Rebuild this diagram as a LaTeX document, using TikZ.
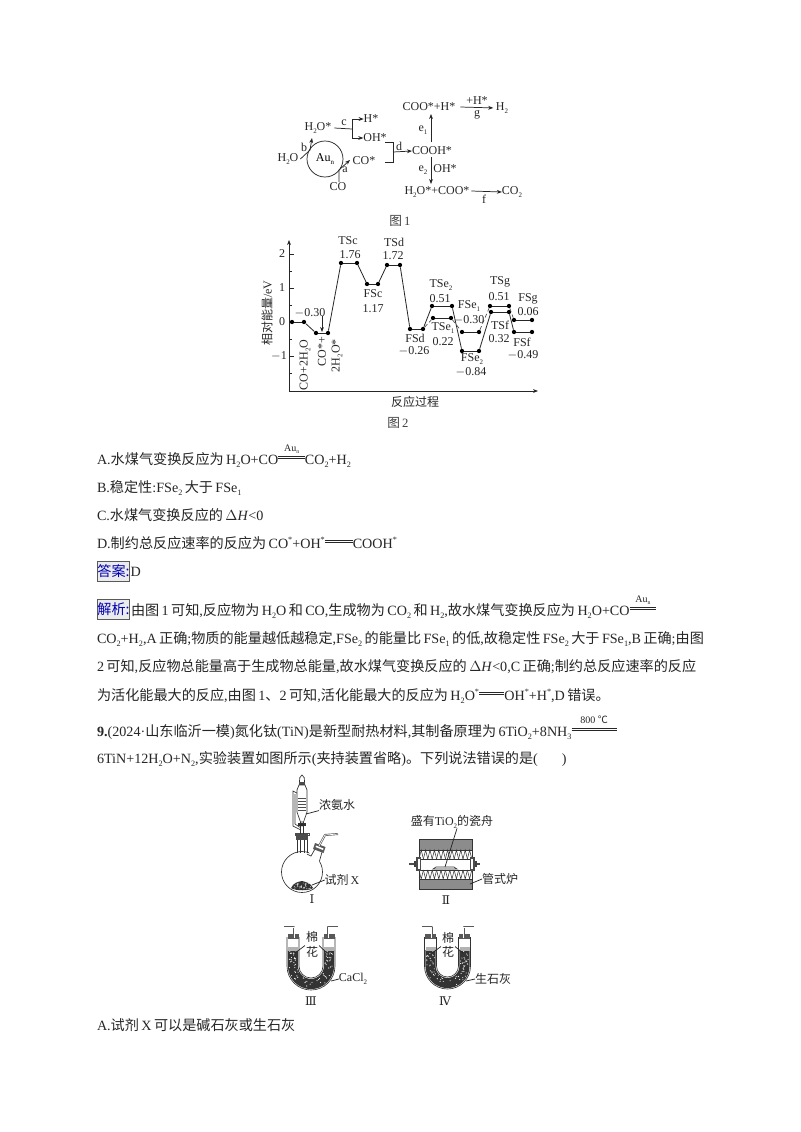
\documentclass[tikz,border=0pt]{standalone}
\usepackage{fontspec}
\usetikzlibrary{arrows.meta,calc}
\setmainfont{Liberation Serif}
\newfontfamily\cjk{Noto Sans CJK SC}
\newfontfamily\dvs{DejaVu Serif}
\newcommand\zh[1]{{\cjk #1}}
\newcommand\bodyfont{\fontsize{10.6}{12}\selectfont\spaceskip=1.8pt\relax}
\newcommand\sbs[1]{\raisebox{-0.22em}{\scalebox{0.58}{#1}}}
\newcommand\sps[1]{\raisebox{0.42em}{\scalebox{0.58}{#1}}}
\newcommand\eqsign[2]{\leavevmode\rlap{\raisebox{9.6pt}{\makebox[#1]{\fontsize{7.5}{8}\selectfont #2}}}\rlap{\raisebox{4.4pt}{\rule{#1}{0.4pt}}}\raisebox{5.8pt}{\rule{#1}{0.4pt}}}
\tikzset{
  x=0.75pt,y=-0.75pt,
  body/.style={anchor=base west,inner sep=0pt,outer sep=0pt,font=\bodyfont,text=black!85},
  small/.style={inner sep=0pt,outer sep=0pt,font=\fontsize{9}{10}\selectfont,text=black!85},
  figcap/.style={inner sep=0pt,outer sep=0pt,font=\fontsize{9.5}{10}\selectfont,text=black!75},
  ln/.style={draw=black!85,line width=0.55pt},
  arr/.style={ln,-{Stealth[length=3.8pt,width=2.9pt]}},
  lvl/.style={draw=black!85,line width=0.6pt},
  dash2/.style={draw=black!70,line width=0.5pt,densely dashed},
  pt/.style={circle,fill=black,inner sep=0pt,minimum size=3.2pt},
  tag/.style={draw=black!65,line width=0.6pt,fill=blue!10!black!8,inner sep=0pt,outer sep=0pt,text=blue!70!black,font=\fontsize{10.6}{12}\selectfont\cjk,minimum height=15pt,minimum width=24.5pt},
  glass/.style={draw=black!80,line width=0.5pt},
}
\newcommand\level[4]{% name, x1, x2, y
  \node[pt] (#1a) at (#2,#4) {};
  \node[pt] (#1b) at (#3,#4) {};
  \draw[lvl] (#1a) -- (#1b);
}
\newcommand\utube[3]{% center x, mid radius, seed
  \pgfmathsetseed{#3}
  \begin{scope}[shift={(#1,966)}]
    \fill[white] (-#2-6,-29) rectangle (#2+6,0);
    \path[draw=black!80,line width=7.6pt] (-#2,-16) -- (-#2,0)
      .. controls (-#2,0.5523*#2) and (-0.5523*#2,#2) .. (0,#2)
      .. controls (0.5523*#2,#2) and (#2,0.5523*#2) .. (#2,0) -- (#2,-16);
    \foreach \i in {1,...,22}{
      \pgfmathsetmacro\dx{rnd*8-4}\pgfmathsetmacro\yy{-16+rnd*16}
      \fill[white] (-#2+\dx,\yy) circle (0.55);
      \pgfmathsetmacro\dx{rnd*8-4}\pgfmathsetmacro\yy{-16+rnd*16}
      \fill[white] (#2+\dx,\yy) circle (0.55);
    }
    \foreach \i in {1,...,34}{
      \pgfmathsetmacro\aa{rnd*180}\pgfmathsetmacro\rr{#2+rnd*8-4}
      \fill[white] ({\rr*cos(\aa)},{\rr*sin(\aa)}) circle (0.55);
    }
    \fill[black!30] (-#2-5,-19) rectangle (-#2+5,-15);
    \fill[black!30] (#2-5,-19) rectangle (#2+5,-15);
    % glass walls
    \draw[glass] (-#2-6,-29) -- (-#2-6,0) .. controls (-#2-6,{0.5523*(#2+6)}) and ({-0.5523*(#2+6)},#2+6) .. (0,#2+6)
      .. controls ({0.5523*(#2+6)},#2+6) and (#2+6,{0.5523*(#2+6)}) .. (#2+6,0) -- (#2+6,-29);
    \draw[glass] (-#2+6,-29) -- (-#2+6,0) .. controls (-#2+6,{0.5523*(#2-6)}) and ({-0.5523*(#2-6)},#2-6) .. (0,#2-6)
      .. controls ({0.5523*(#2-6)},#2-6) and (#2-6,{0.5523*(#2-6)}) .. (#2-6,0) -- (#2-6,-29);
    % stoppers
    \fill[black!65] (-#2-5.5,-32) rectangle (-#2+5.5,-27);
    \fill[black!65] (#2-5.5,-32) rectangle (#2+5.5,-27);
    % delivery tubes
    \draw[black!65,line width=1.5pt,line join=round] (-#2+1,-28) -- (-#2+1,-39) -- (-#2-9,-39);
    \draw[black!65,line width=1.5pt,line join=round] (#2-1,-28) -- (#2-1,-39) -- (#2+9,-39);
    \draw[white,line width=0.5pt,line join=round] (-#2+1,-28) -- (-#2+1,-39) -- (-#2-9,-39);
    \draw[white,line width=0.5pt,line join=round] (#2-1,-28) -- (#2-1,-39) -- (#2+9,-39);
  \end{scope}
}
\begin{document}
\begin{tikzpicture}
\useasboundingbox (0,0) rectangle (800,1132);
\fill[white] (0,0) rectangle (800,1132);

%%%%% Figure 1
\node[small] (cooh1) at (429,107) {COO*+H*};
\node[small] (h2) at (502,108) {H\sbs{2}};
\node[small] (plush) at (477,101) {+H*};
\node[small] (g) at (477,115) {g};
\node[small] (cooh) at (432,151) {COOH*};
\node[small] (e1) at (423,130) {e\sbs{1}};
\node[small] (e2) at (423,170) {e\sbs{2}};
\node[small] (ohb) at (445,169) {OH*};
\node[small] (h2ocoo) at (437,192) {H\sbs{2}O*+COO*};
\node[small] (co2) at (512,192) {CO\sbs{2}};
\node[small] (f) at (484,199) {f};
\node[small] (h2os) at (318,128) {H\sbs{2}O*};
\node[small] (hs) at (371,119) {H*};
\node[small] (ohs) at (375,138) {OH*};
\node[small] (c) at (344,123) {c};
\node[small] (d) at (399,146) {d};
\node[small] (h2o) at (288,159) {H\sbs{2}O};
\node[small] (cos) at (364,161) {CO*};
\node[small] (co) at (338,187) {CO};
\node[small] (a) at (345,170) {a};
\node[small] (b) at (304,147) {b};
\node[draw=black!85,line width=0.55pt,circle,minimum size=27pt,inner sep=0pt,font=\fontsize{9}{10}\selectfont] (au) at (325,159) {Au\sbs{n}};
\node[figcap] (fig1) at (400,221) {\zh{图}\,1};
\draw[arr,shorten >=2pt] (cooh1.east)++(5,0) -- (h2.west) ;
\coordinate (e1t) at (431,114);
\coordinate (e1b) at (431,142);
\coordinate (e2t) at (431,157);
\coordinate (e2b) at (431,184);
\draw[arr] (e1b) -- (e1t);
\draw[arr] (e2t) -- (e2b);
\draw[arr] (h2ocoo.east)++(2,-1) -- (co2.west);
\coordinate (cj) at (352,129);
\draw[ln] (h2os.east)++(3,0) -- (cj);
\draw[arr] (352,119) -- (hs.west);
\draw[arr] (352,138) -- (ohs.west);
\draw[ln] (352,119) -- (352,138);
\coordinate (dj) at (393,152);
\draw[ln] (385,142) -- (393,142) -- (393,162) -- (385,162);
\draw[arr] (dj) -- (cooh.west);
\draw[arr] (co.north)++(1,-1) -- (339,170) -- (350,160);
\draw[arr] (h2o.east)++(2,0) -- (310,150) -- (312,138);

%%%%% Figure 2
\coordinate (origin) at (289,391);
\coordinate (ytop) at (289,240);
\coordinate (xend) at (538,391);
\draw[arr] (origin) -- (ytop);
\draw[arr] (origin) -- (xend);
\foreach \yy in {254,288,322,356}{\draw[ln] (289,\yy) -- (294,\yy);}
\foreach \yy in {271,305,339,373}{\draw[ln] (289,\yy) -- (292,\yy);}
\node[small] (t2) at (282,254) {2};
\node[small] (t1) at (282,288) {1};
\node[small] (t0) at (282,322) {0};
\node[small] (tm) at (279,356) {$-$1};
\node[small,rotate=90] (ylab) at (267,313) {\zh{相对能量}/eV};
\node[small] (xlab) at (415,402) {\zh{反应过程}};
\node[figcap] (fig2) at (398,423) {\zh{图}\,2};
\level{p0}{292}{304}{322}
\level{p1}{316}{328}{333}
\level{p2}{341}{357}{263}
\level{p3}{367}{378}{284}
\level{p4}{387}{400}{265}
\level{p5}{410}{423}{329}
\level{p6}{432}{452}{306}
\level{p7}{433}{451}{318}
\level{p8}{462}{479}{332}
\level{p9}{462}{479}{351}
\level{p10}{490}{509}{306}
\level{p11}{491}{509}{312}
\level{p12}{514}{532}{320}
\level{p13}{514}{532}{332}
\draw[lvl] (p0b) -- (p1a);
\draw[lvl] (p1b) -- (p2a);
\draw[lvl] (p2b) -- (p3a);
\draw[lvl] (p3b) -- (p4a);
\draw[lvl] (p4b) -- (p5a);
\draw[lvl] (p5b) -- (p6a);
\draw[lvl] (p6b) -- (p9a);
\draw[lvl] (p9b) -- (p11a);
\draw[lvl] (p11b) -- (p13a);
\draw[dash2] (p5b) -- (p7a);
\draw[dash2] (p7b) -- (p8a);
\draw[dash2] (p8b) -- (p10a);
\draw[dash2] (p10b) -- (p12a);
\node[small] (v0) at (310,313) {$-$0.30};
\coordinate (v0t) at (322,316);
\draw[arr] (v0t) -- (322,332);
\node[small,rotate=90,anchor=west] (r1) at (305,390) {CO+2H\sbs{2}O};
\node[small,rotate=90,anchor=west] (r2) at (322,366) {CO*+};
\node[small,rotate=90,anchor=west] (r3) at (337,372) {2H\sbs{2}O*};
\node[small] (tsc) at (348,241) {TSc};
\node[small] (tscv) at (350,255) {1.76};
\node[small] (tsd) at (394,242) {TSd};
\node[small] (tsdv) at (393,256) {1.72};
\node[small] (fsc) at (373,294) {FSc};
\node[small] (fscv) at (373,309) {1.17};
\node[small] (fsd) at (415,338) {FSd};
\node[small] (fsdv) at (414,351) {$-$0.26};
\node[small] (tse2) at (441,285) {TSe\sbs{2}};
\node[small] (tse2v) at (440,299) {0.51};
\node[small] (tse1) at (443,328) {TSe\sbs{1}};
\node[small] (tse1v) at (443,342) {0.22};
\node[small] (fse1) at (469,306) {FSe\sbs{1}};
\node[small] (fse1v) at (469,320) {$-$0.30};
\node[small] (fse2) at (472,359) {FSe\sbs{2}};
\node[small] (fse2v) at (471,372) {$-$0.84};
\node[small] (tsg) at (500,282) {TSg};
\node[small] (tsgv) at (499,297) {0.51};
\node[small] (tsf) at (500,325) {TSf};
\node[small] (tsfv) at (499,339) {0.32};
\node[small] (fsg) at (528,299) {FSg};
\node[small] (fsgv) at (528,312) {0.06};
\node[small] (fsf) at (522,342) {FSf};
\node[small] (fsfv) at (523,355) {$-$0.49};

%%%%% Body text
\node[body] (la) at (97,464) {A.\zh{水煤气变换反应为} H\sbs{2}O+CO\eqsign{20pt}{Au\sbs{n}}CO\sbs{2}+H\sbs{2}};
\node[body] (lb) at (97,492) {B.\zh{稳定性}:FSe\sbs{2} \zh{大于} FSe\sbs{1}};
\node[body] (lc) at (97,520) {C.\zh{水煤气变换反应的} $\Delta$\textit{H}<0};
\node[body] (ld) at (97,548) {D.\zh{制约总反应速率的反应为} CO\sps{*}+OH\sps{*}\eqsign{21pt}{}COOH\sps{*}};
\node[tag] (tagd) at (113.5,571) {答案:};
\node[body] (ldd) at (130.5,576) {D};
\node[tag] (tagj) at (113.5,609) {解析:};
\node[body] (j1) at (131,615) {\zh{由图} 1 \zh{可知},\zh{反应物为} H\sbs{2}O \zh{和} CO,\zh{生成物为} CO\sbs{2} \zh{和} H\sbs{2},\zh{故水煤气变换反应为} H\sbs{2}O+CO\eqsign{20pt}{Au\sbs{n}}};
\node[body] (j2) at (97,643) {CO\sbs{2}+H\sbs{2},A \zh{正确};\zh{物质的能量越低越稳定},FSe\sbs{2} \zh{的能量比} FSe\sbs{1} \zh{的低},\zh{故稳定性} FSe\sbs{2} \zh{大于} FSe\sbs{1},B \zh{正确};\zh{由图}};
\node[body] (j3) at (97,671) {2 \zh{可知},\zh{反应物总能量高于生成物总能量},\zh{故水煤气变换反应的} $\Delta$\textit{H}<0,C \zh{正确};\zh{制约总反应速率的反应}};
\node[body] (j4) at (97,700) {\zh{为活化能最大的反应},\zh{由图} 1\zh{、}2 \zh{可知},\zh{活化能最大的反应为} H\sbs{2}O\sps{*}\eqsign{19pt}{}OH\sps{*}+H\sps{*},D \zh{错误。}};
\node[body] (q1) at (97,736) {\textbf{9.}(2024·\zh{山东临沂一模})\zh{氮化钛}(TiN)\zh{是新型耐热材料},\zh{其制备原理为} 6TiO\sbs{2}+8NH\sbs{3}\eqsign{34pt}{800 \zh{℃}}};
\node[body] (q2) at (97,763) {6TiN+12H\sbs{2}O+N\sbs{2},\zh{实验装置如图所示}(\zh{夹持装置省略})\zh{。下列说法错误的是}(\hspace{18pt})};
\node[body] (q3) at (97,1030) {A.\zh{试剂} X \zh{可以是碱石灰或生石灰}};

%%%%% Apparatus I
\draw[glass,fill=white] (302,872) circle (20.5);
\fill[white] (297,853) rectangle (307,856);
\fill[white] (309,852) -- (316,847) -- (321,856) -- (319,862) -- (313,860) -- cycle;
\draw[glass] (297,853) -- (297,836);
\draw[glass] (307,853) -- (307,836);
\draw[glass] (307,854) -- (311,856) -- (315,849);
\draw[glass] (319.5,861) -- (322,852);
\fill[black!70] (296,834) rectangle (308,840);
\draw[black!70,line width=0.5pt] (295,833) rectangle (309,835);
\draw[glass] (300,840) -- (300,853);
\draw[glass] (304,840) -- (304,853);
\fill[black!65] (315,843) -- (325.5,847) -- (323.5,853) -- (313,849) -- cycle;
\fill[white] (316,845.5) -- (323.5,848.5) -- (323,850) -- (315.5,847) -- cycle;
\draw[black!65,line width=1.5pt,line join=round] (319,846) -- (325,835) -- (338,834);
\draw[white,line width=0.5pt,line join=round] (319,846) -- (325,835) -- (338,834);
% funnel
\draw[glass] (299.5,785) -- (299.5,781) .. controls (299,778) and (300,777) .. (302,775) .. controls (304,777) and (305,778) .. (304.5,781) -- (304.5,785);
\fill[black!70] (299,782) rectangle (305,785);
\draw[glass,fill=white] (299,785) -- (297,790) -- (297,812) -- (300.5,822) -- (303.5,822) -- (307,812) -- (307,790) -- (305,785) -- cycle;
\draw[glass] (300.5,822) -- (300.5,834);
\draw[glass] (303.5,822) -- (303.5,834);
\foreach \yy in {798,801,804,807,810}{\draw[black!70,line width=0.4pt] (298,\yy) -- (306,\yy);}
\draw[glass] (297,793) -- (293,791) -- (293,826) -- (301,830);
\draw[glass] (295,794) -- (295,824) -- (301,828);
\fill[black!80] (298,823) rectangle (306,826);
\fill[black!85] (302,825) circle (1.6);
% solid reagent
\fill[black!80] (291,888) .. controls (294,882) and (298,882) .. (302,881) .. controls (306,882) and (311,883) .. (313,888) .. controls (310,891) and (295,891) .. (291,888) -- cycle;
\pgfmathsetseed{5}
\foreach \i in {1,...,40}{\fill[white] ({293+rnd*18},{883+rnd*6}) circle (0.4);}
\node[small] (nh3) at (337,805) {\zh{浓氨水}};
\coordinate (nh3e) at (306,814);
\draw[ln] (nh3.south west) -- (nh3e);
\node[small] (rx) at (342,880) {\zh{试剂}\,X};
\coordinate (rxe) at (312,885);
\draw[ln] (rx.west) -- (rxe);
\node[small,font=\fontsize{9}{10}\selectfont\dvs] (ri) at (312,899) {Ⅰ};

%%%%% Apparatus II
\fill[black!45] (419,839) rectangle (472,850);
\fill[black!45] (419,879) rectangle (472,889);
\draw[black!80,line width=0.45pt] (419,839) rectangle (472,889);
\draw[glass] (419,850) -- (472,850);
\draw[glass] (419,879) -- (472,879);
\draw[glass] (419,859) -- (472,859);
\draw[glass] (419,870) -- (472,870);
\foreach \xx in {0,...,11}{
  \draw[black!80,line width=0.4pt] ({419+\xx*4.4},859) -- ({421.2+\xx*4.4},850) -- ({423.4+\xx*4.4},859);
  \draw[black!80,line width=0.4pt] ({419+\xx*4.4},870) -- ({421.2+\xx*4.4},879) -- ({423.4+\xx*4.4},870);
}
\fill[black!70] (416,857) rectangle (421,871);
\fill[black!70] (470,857) rectangle (475,871);
\fill[white] (418,859) rectangle (420,869);
\fill[white] (471,859) rectangle (473,869);
\draw[black!70,line width=1pt] (409,864) -- (417,864);
\draw[black!70,line width=1pt] (474,864) -- (480,864);
\fill[black!75] (414,861) rectangle (416,867);
\fill[black!75] (475,861) rectangle (477,867);
\draw[glass,fill=white] (433,869) -- (436,867) -- (454,867) -- (457,869) -- cycle;
\node[small] (tio) at (452,822) {\zh{盛有}TiO\sbs{2}\zh{的瓷舟}};
\coordinate (boat) at (445,867);
\draw[ln] (tio.south) ++(5,0) -- (boat);
\node[small] (lu) at (500,879) {\zh{管式炉}};
\coordinate (lue) at (470,884);
\draw[ln] (lu.west) -- (lue);
\node[small,font=\fontsize{9}{10}\selectfont\dvs] (rii) at (446,900) {Ⅱ};

%%%%% Apparatus III, IV
\utube{311}{18}{11}
\utube{447.5}{17}{23}
\node[small] (m3) at (312,937) {\zh{棉}};
\node[small] (h3) at (312,952) {\zh{花}};
\coordinate (c3l) at (295,953);
\coordinate (c3r) at (327,953);
\draw[ln] (m3.south west) ++(-1,3) -- (c3l);
\draw[ln] (m3.south east) ++(1,3) -- (c3r);
\node[small] (cacl) at (353,979) {CaCl\sbs{2}};
\coordinate (caclE) at (331,981);
\draw[ln] (cacl.west) -- (caclE);
\node[small,font=\fontsize{9}{10}\selectfont\dvs] (riii) at (311,1001) {Ⅲ};
\node[small] (m4) at (448,938) {\zh{棉}};
\node[small] (h4) at (448,952) {\zh{花}};
\coordinate (c4l) at (432,953);
\coordinate (c4r) at (463,953);
\draw[ln] (m4.south west) ++(-1,3) -- (c4l);
\draw[ln] (m4.south east) ++(1,3) -- (c4r);
\node[small] (sh) at (493,979) {\zh{生石灰}};
\coordinate (shE) at (466,981);
\draw[ln] (sh.west) -- (shE);
\node[small,font=\fontsize{9}{10}\selectfont\dvs] (riv) at (445,1001) {Ⅳ};
\end{tikzpicture}
\end{document}
